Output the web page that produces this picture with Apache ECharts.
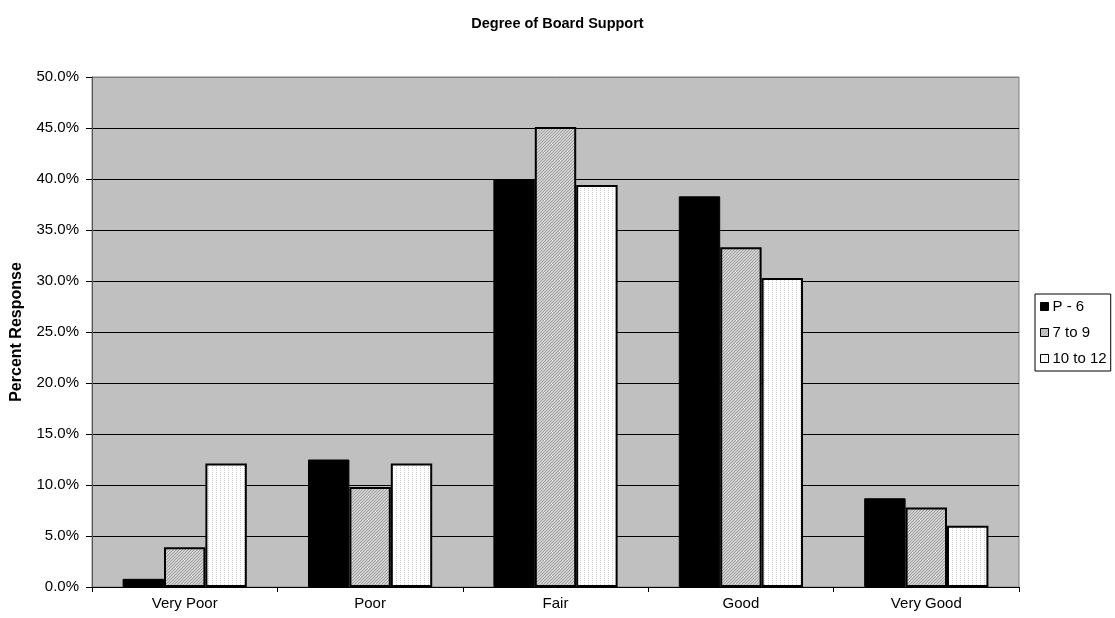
<!DOCTYPE html>
<html>
<head>
<meta charset="utf-8">
<title>Degree of Board Support</title>
<script src="https://cdn.jsdelivr.net/npm/echarts@6/dist/echarts.min.js"></script>
<style>
  html, body { margin: 0; padding: 0; background: #ffffff; }
  #chart { width: 1115px; height: 618px; }
</style>
</head>
<body>
<div id="chart"></div>
<script>
// Survey categories and percent responses by grade band
const categories = ['Very Poor', 'Poor', 'Fair', 'Good', 'Very Good'];
const seriesNames = ['P - 6', '7 to 9', '10 to 12'];
const p6Values = [0.8, 12.5, 40.0, 38.3, 8.7];
const g7to9Values = [3.9, 9.8, 45.1, 33.3, 7.8];
const g10to12Values = [12.1, 12.1, 39.4, 30.3, 6.0];
const yTicks = { min: 0, max: 50, step: 5 };

// Small tiled fills: diagonal hatch and fine dotted texture
function makePattern(draw, size) {
  const c = document.createElement('canvas');
  c.width = size; c.height = size;
  const ctx = c.getContext('2d');
  draw(ctx, size);
  return { image: c, repeat: 'repeat' };
}
const hatchFill = makePattern(function (ctx, s) {
  ctx.fillStyle = '#cfcfcf';
  ctx.fillRect(0, 0, s, s);
  ctx.fillStyle = '#a2a2a2';
  for (let i = 0; i < s; i++) {
    ctx.fillRect(i, (s - 1 - i), 1, 1);
  }
}, 3);
const dotFill = makePattern(function (ctx, s) {
  ctx.fillStyle = '#ffffff';
  ctx.fillRect(0, 0, s, s);
  ctx.fillStyle = '#cccccc';
  ctx.fillRect(0, 0, 1, 1);
  ctx.fillRect(0, 2, 1, 1);
}, 4);

const FONT = 'Liberation Sans, Arial, sans-serif';

// Gridlines are black; the top edge of the plot uses the grey frame colour
const gridLineColors = [];
for (let v = yTicks.min; v <= yTicks.max; v += yTicks.step) {
  gridLineColors.push(v === yTicks.max ? '#808080' : '#000000');
}

const chart = echarts.init(document.getElementById('chart'), null, { renderer: 'canvas' });

chart.setOption({
  backgroundColor: '#ffffff',
  animation: false,
  title: {
    text: 'Degree of Board Support',
    left: 'center',
    top: 11,
    textStyle: { fontFamily: FONT, fontSize: 14.5, fontWeight: 'bold', color: '#000' }
  },
  legend: {
    orient: 'vertical',
    left: 1035,
    top: 294,
    padding: [5, 4, 5, 5],
    itemGap: 11,
    itemWidth: 8,
    itemHeight: 8,
    icon: 'rect',
    backgroundColor: '#ffffff',
    borderColor: '#000000',
    borderWidth: 1,
    borderRadius: 0,
    itemStyle: { borderWidth: 1, borderColor: '#000' },
    textStyle: { fontFamily: FONT, fontSize: 15, color: '#000', padding: [0, 0, 0, -1] },
    data: seriesNames
  },
  grid: {
    left: 92,
    right: 96,
    top: 77,
    bottom: 31,
    show: true,
    backgroundColor: '#c0c0c0',
    borderColor: '#808080',
    borderWidth: 1
  },
  xAxis: {
    type: 'category',
    data: categories,
    axisLine: { lineStyle: { color: '#000', width: 1 } },
    axisTick: { show: true, length: 5, lineStyle: { color: '#000' } },
    axisLabel: { fontFamily: FONT, fontSize: 15, color: '#000', margin: 9 }
  },
  yAxis: {
    type: 'value',
    min: yTicks.min,
    max: yTicks.max,
    interval: yTicks.step,
    name: 'Percent Response',
    nameLocation: 'middle',
    nameGap: 67,
    nameTextStyle: { fontFamily: FONT, fontSize: 16, fontWeight: 'bold', color: '#000' },
    axisLine: { show: true, lineStyle: { color: '#555', width: 1 } },
    axisTick: { show: true, inside: false, length: 6, lineStyle: { color: '#000' } },
    axisLabel: {
      fontFamily: FONT, fontSize: 15, color: '#000', margin: 13,
      formatter: function (v) { return v.toFixed(1) + '%'; }
    },
    splitLine: { show: true, lineStyle: { color: gridLineColors, width: 1 } }
  },
  series: [
    {
      name: seriesNames[0],
      type: 'bar',
      data: p6Values,
      barGap: '0%',
      barCategoryGap: '33%',
      itemStyle: { color: '#000000', borderColor: '#000', borderWidth: 1 }
    },
    {
      name: seriesNames[1],
      type: 'bar',
      data: g7to9Values,
      barGap: '0%',
      barCategoryGap: '33%',
      itemStyle: { color: hatchFill, borderColor: '#000', borderWidth: 2 }
    },
    {
      name: seriesNames[2],
      type: 'bar',
      data: g10to12Values,
      barGap: '0%',
      barCategoryGap: '33%',
      itemStyle: { color: dotFill, borderColor: '#000', borderWidth: 2 }
    }
  ]
});
</script>
</body>
</html>
